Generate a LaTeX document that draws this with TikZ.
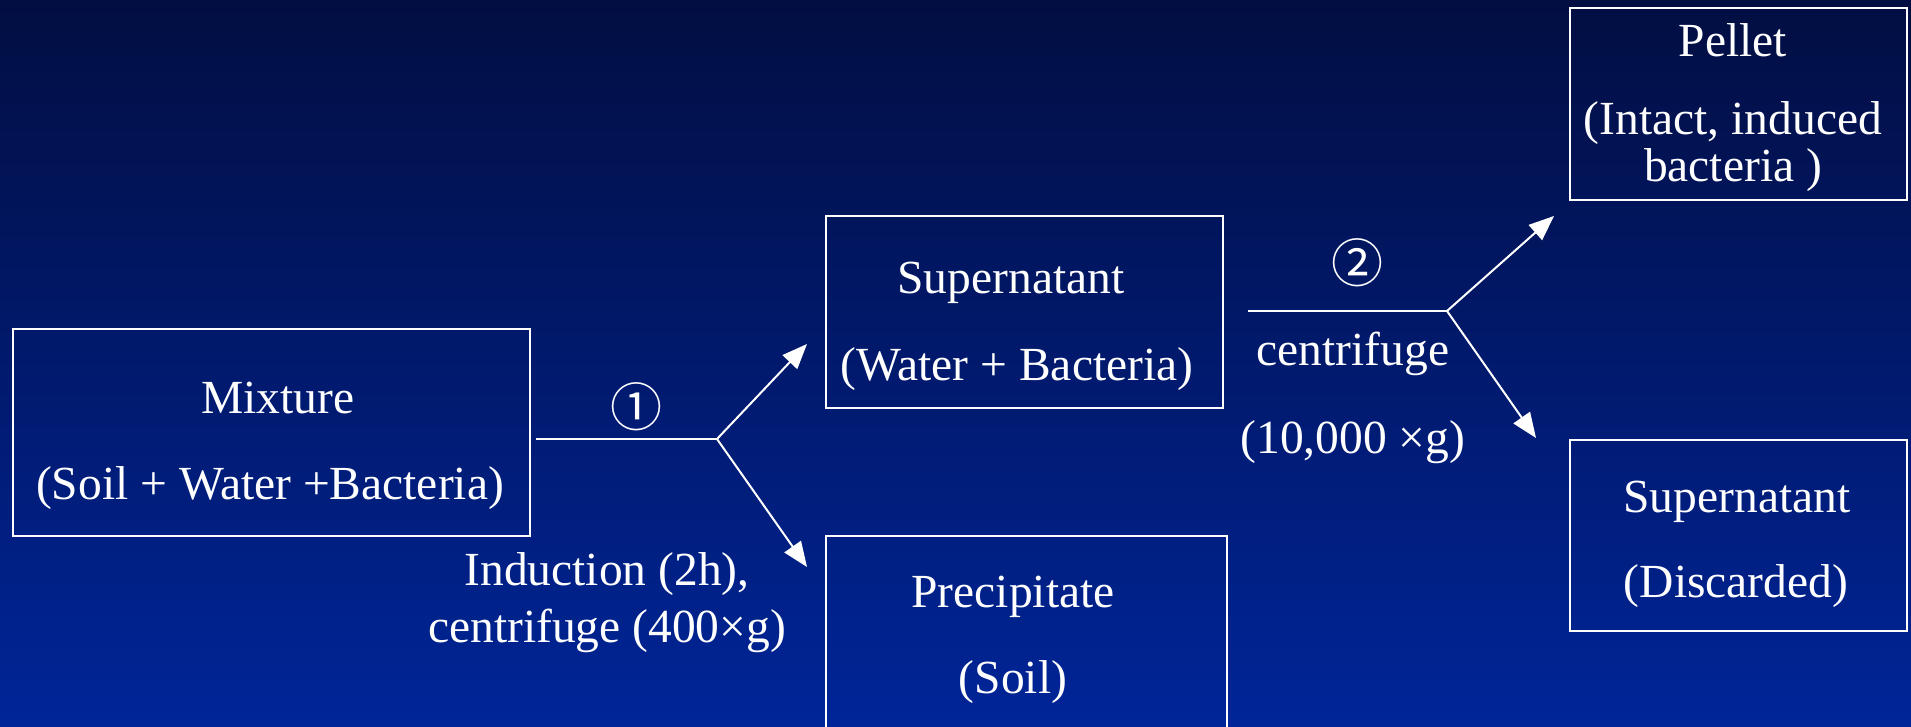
\documentclass[tikz,border=0pt]{standalone}
\usepackage{fontspec}
\setmainfont{Liberation Serif}
\newfontfamily\circfont{Noto Sans CJK SC}
\usetikzlibrary{arrows.meta}
\definecolor{bgtop}{RGB}{2,14,66}
\definecolor{bgbot}{RGB}{0,37,152}
\begin{document}
\begin{tikzpicture}[x=1pt,y=-1pt,
  box/.style={draw=white,line width=2pt,inner sep=0pt,anchor=north west},
  txt/.style={text=white,font=\fontsize{47.5}{57}\selectfont,anchor=base,inner sep=0pt},
  conn/.style={draw=white,line width=2pt},
  arr/.style={conn,-{Triangle[length=25pt,width=20pt]}},
  circ/.style={text=white,font=\circfont\fontsize{52}{60}\selectfont,inner sep=0pt}]
\useasboundingbox (0,0) rectangle (1911,726);
\clip (0,0) rectangle (1911,726);
\shade[top color=bgtop,bottom color=bgbot] (0,0) rectangle (1911,726);
% boxes
\node[box,minimum width=517pt,minimum height=207pt] (mix) at (12,328) {};
\node[box,minimum width=397pt,minimum height=192pt] (sup) at (825,215) {};
\node[box,minimum width=401pt,minimum height=240pt] (pre) at (825,535) {};
\node[box,minimum width=337pt,minimum height=192pt] (pel) at (1569,7) {};
\node[box,minimum width=337pt,minimum height=191pt] (dis) at (1569,439) {};
% texts
\node[txt] (mixA) at (278,413) {Mixture};
\node[txt] (mixB) at (270,499) {(Soil + Water +Bacteria)};
\node[txt] (supA) at (1011,293) {Supernatant};
\node[txt] (supB) at (1017,380) {(Water + Bacteria)};
\node[txt] (preA) at (1013,607) {Precipitate};
\node[txt] (preB) at (1013,693) {(Soil)};
\node[txt] (pelA) at (1733,56) {Pellet};
\node[txt] (pelB) at (1733,134) {(Intact, induced};
\node[txt] (pelC) at (1733,181) {bacteria )};
\node[txt] (disA) at (1737,512) {Supernatant};
\node[txt] (disB) at (1736,597) {(Discarded)};
\node[txt] (ind1) at (607,585) {Induction (2h),};
\node[txt] (ind2) at (607,642) {centrifuge (400×g)};
\node[txt] (cen) at (1353,365) {centrifuge};
\node[txt] (g10) at (1353,453) {(10,000 ×g)};
\node[circ] (c1) at (636,407) {①};
\node[circ] (c2) at (1357,263) {②};
% connectors
\coordinate (s1) at (536,439);
\coordinate (j1) at (717,439);
\coordinate (t1a) at (807,344);
\coordinate (t1b) at (807,567);
\coordinate (s2) at (1248,311);
\coordinate (j2) at (1447,311);
\coordinate (t2a) at (1554,216);
\coordinate (t2b) at (1536,438);
\draw[conn] (s1) -- (j1);
\draw[arr] (j1) -- (t1a);
\draw[arr] (j1) -- (t1b);
\draw[conn] (s2) -- (j2);
\draw[arr] (j2) -- (t2a);
\draw[arr] (j2) -- (t2b);
\end{tikzpicture}
\end{document}
